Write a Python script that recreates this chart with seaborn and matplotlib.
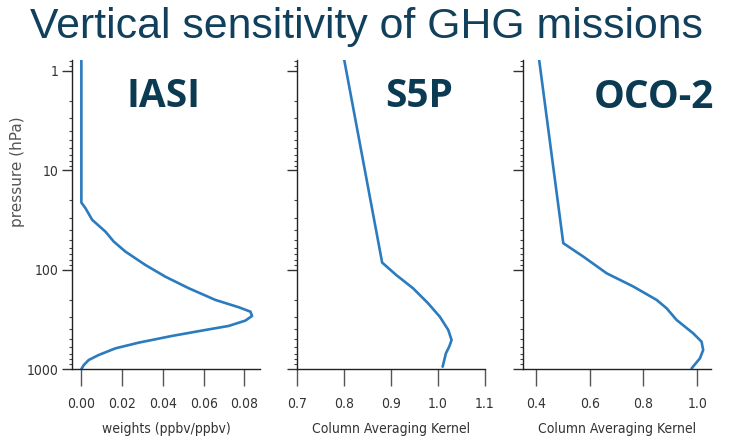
import numpy as np
import pandas as pd
import matplotlib
matplotlib.use("Agg")
import matplotlib.pyplot as plt
import matplotlib.ticker as mticker
from matplotlib.font_manager import FontProperties
import seaborn as sns

# ---------------- data ----------------
iasi_p = [0.78, 5, 15.8, 21.2, 24.1, 31.6, 41.5, 52.3, 65.9, 89.8, 117.8, 154, 202, 239, 265,
          293, 326, 369, 405, 465, 543, 620, 723, 812, 912, 1000]
iasi_w = [0.0, 0.0, 0.0, 0.0, 0.0020, 0.0053, 0.0118, 0.0159, 0.0216, 0.0314, 0.0412, 0.0527, 0.0658, 0.0772, 0.0830,
          0.0838, 0.0805, 0.0723, 0.0609, 0.0445, 0.0282, 0.0167, 0.0085, 0.0036, 0.0012, 0.0]

s5p_p = [0.78, 85, 113, 154, 218, 298, 405, 511, 596, 695, 948]
s5p_k = [0.801, 0.8815, 0.911, 0.947, 0.979, 1.004, 1.022, 1.029, 1.024, 1.017, 1.010]

oco_p = [0.78, 54.3, 74, 109, 148, 202, 245, 321, 438, 531, 644, 781, 985]
oco_k = [0.412, 0.5017, 0.576, 0.663, 0.762, 0.849, 0.886, 0.923, 0.985, 1.016, 1.022, 1.010, 0.979]

missions = ["IASI", "S5P", "OCO-2"]
x_labels = ["weights (ppbv/ppbv)", "Column Averaging Kernel", "Column Averaging Kernel"]
x_ticks = [[0.00, 0.02, 0.04, 0.06, 0.08], [0.7, 0.8, 0.9, 1.0, 1.1], [0.4, 0.6, 0.8, 1.0]]
x_tick_labels = [["0.00", "0.02", "0.04", "0.06", "0.08"], ["0.7", "0.8", "0.9", "1.0", "1.1"], ["0.4", "0.6", "0.8", "1.0"]]
x_limits = [(-0.0046, 0.0877), (0.7, 1.1), (0.353, 1.05)]
y_ticks = [1, 10, 100, 1000]
y_tick_labels = ["1", "10", "100", "1000"]
title = "Vertical sensitivity of GHG missions"
y_label = "pressure (hPa)"

# ---------------- style ----------------
sns.set_style("ticks")
plt.rcParams["font.family"] = ["DejaVu Sans"]

LINE = "#2b7bbf"
NAVY = "#0b3a53"
TITLE_C = "#11405c"
tick_fp = FontProperties(family="DejaVu Sans", stretch="condensed", size=10)

fig = plt.figure(figsize=(7.46, 4.44), dpi=100)
W, H = 746, 444
boxes = [(72, 260), (296.7, 485), (523.3, 710.7)]
top_px, bot_px = 60, 369

frames = [
    pd.DataFrame({"x": iasi_w, "p": iasi_p}),
    pd.DataFrame({"x": s5p_k, "p": s5p_p}),
    pd.DataFrame({"x": oco_k, "p": oco_p}),
]

for i, (l, r) in enumerate(boxes):
    ax = fig.add_axes([l / W, 1 - bot_px / H, (r - l) / W, (bot_px - top_px) / H])
    ax.set_facecolor("white")
    sns.lineplot(data=frames[i], x="x", y="p", sort=False, estimator=None,
                 color=LINE, linewidth=1.9, ax=ax)
    ax.set_yscale("log")
    ax.set_ylim(1000, 0.78)
    ax.set_xlim(*x_limits[i])
    sns.despine(ax=ax)
    for s in ("left", "bottom"):
        ax.spines[s].set_color("#222222")
        ax.spines[s].set_linewidth(1.0)

    ax.set_xticks(x_ticks[i])
    ax.set_xticklabels(x_tick_labels[i], fontproperties=tick_fp, color="#333333")
    ax.tick_params(axis="x", which="major", direction="out", length=12, width=1.0,
                   color="#555555", pad=8)
    ax.xaxis.set_minor_locator(mticker.NullLocator())

    ax.set_yticks(y_ticks)
    ax.yaxis.set_minor_locator(mticker.LogLocator(base=10, subs=np.arange(2, 10)))
    ax.yaxis.set_minor_formatter(mticker.NullFormatter())
    ax.tick_params(axis="y", which="major", direction="out", length=7, width=1.0,
                   color="#333333", pad=3)
    ax.tick_params(axis="y", which="minor", direction="out", length=2.5, width=0.8,
                   color="#444444")
    if i == 0:
        ax.set_yticklabels(y_tick_labels, fontproperties=tick_fp, color="#333333")
        ax.set_ylabel(y_label, fontsize=11, color="#555555")
        ax.yaxis.set_label_coords(-0.25, 0.64)
    else:
        ax.set_yticklabels([])
        ax.set_ylabel("")

    ax.set_xlabel(x_labels[i], fontproperties=tick_fp, color="#333333", labelpad=8)

label_pos = [(163, 107), (419, 107), (654, 108)]
for name, (cx, by) in zip(missions, label_pos):
    fig.text(cx / W, 1 - by / H, name, ha="center", va="baseline",
             fontsize=28, fontweight="bold", family="Open Sans", color=NAVY)

fig.text(366 / W, 1 - 38.3 / H, title, ha="center", va="baseline",
         fontsize=30.8, family="Liberation Sans", color=TITLE_C)

fig.savefig("out.png", dpi=100)
